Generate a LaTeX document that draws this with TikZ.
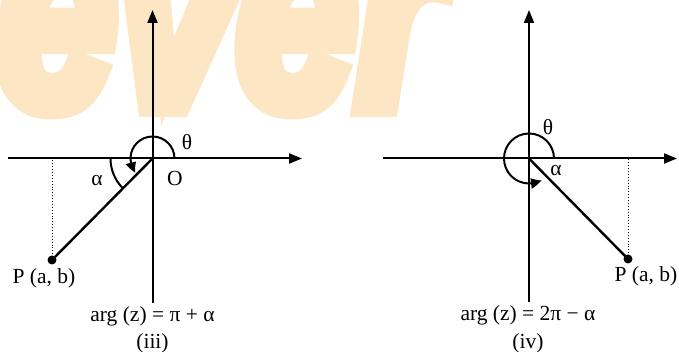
\documentclass[tikz,border=0pt]{standalone}
\usepackage{fontspec}
\setmainfont{Liberation Serif}
\newfontfamily\wmfont{Liberation Sans}[BoldItalicFeatures={FakeBold=8}]
\usetikzlibrary{arrows.meta,bending}
\definecolor{wm}{HTML}{FCE6C4}
\begin{document}
\begin{tikzpicture}[x=1pt,y=1pt,
  axis/.style={line width=2pt,-{Triangle[length=13pt,width=10pt]}},
  ray/.style={line width=2.4pt},
  arcl/.style={line width=2pt},
  arca/.style={line width=2pt,-{Triangle[length=11pt,width=10pt,bend]}},
  proj/.style={line width=0.9pt,dotted},
  lbl/.style={font=\fontsize{21.5}{24}\selectfont,inner sep=0pt},
  dot/.style={circle,fill=black,inner sep=0pt,minimum size=9pt}]
\useasboundingbox (0,0) rectangle (679,352);
\begin{scope}
\clip (0,0) rectangle (679,352);
\node[anchor=base west,inner sep=0pt,text=wm] (wm) at (-4,246) {\scalebox{0.8}[1]{\wmfont\fontsize{270}{270}\selectfont\bfseries\itshape ever}};
\end{scope}
% ---------- left figure (iii)
\coordinate (O1) at (152.5,193.5);
\coordinate (xl1) at (8,193.5);
\coordinate (xr1) at (302,193.5);
\coordinate (yt1) at (152.5,342);
\coordinate (yb1) at (152.5,49);
\coordinate (F1) at (52,193.5);
\node[dot] (P1) at (52,92) {};
\draw[axis] (xl1) -- (xr1);
\draw[axis] (yb1) -- (yt1);
\draw[proj] (P1.center) -- (F1);
\draw[ray] (O1) -- (P1.center);
\draw[arca] ([shift={(0:22)}]O1) arc[start angle=0,end angle=220,radius=22];
\draw[arcl] ([shift={(180:42)}]O1) arc[start angle=180,end angle=224,radius=42];
\node[lbl] (th1) at (187,210) {θ};
\node[lbl] (o1) at (175,174) {O};
\node[lbl] (al1) at (97,171) {α};
\node[lbl] (pl1) at (44,74) {P (a, b)};
\node[lbl] (arg1) at (152.5,36) {arg (z) = π + α};
\node[lbl] (c1) at (152.5,9) {(iii)};
% ---------- right figure (iv)
\coordinate (O2) at (529,193.5);
\coordinate (xl2) at (383,193.5);
\coordinate (xr2) at (677,193.5);
\coordinate (yt2) at (529,342);
\coordinate (yb2) at (529,50);
\coordinate (F2) at (628,193.5);
\node[dot] (P2) at (628,93) {};
\draw[axis] (xl2) -- (xr2);
\draw[axis] (yb2) -- (yt2);
\draw[proj] (P2.center) -- (F2);
\draw[ray] (O2) -- (P2.center);
\draw[arca] ([shift={(0:25)}]O2) arc[start angle=0,end angle=300,radius=25];
\node[lbl] (th2) at (548,225) {θ};
\node[lbl] (al2) at (556,181) {α};
\node[lbl] (pl2) at (646,76) {P (a, b)};
\node[lbl] (arg2) at (528,37) {arg (z) = 2π − α};
\node[lbl] (c2) at (528,9) {(iv)};
\end{tikzpicture}
\end{document}
